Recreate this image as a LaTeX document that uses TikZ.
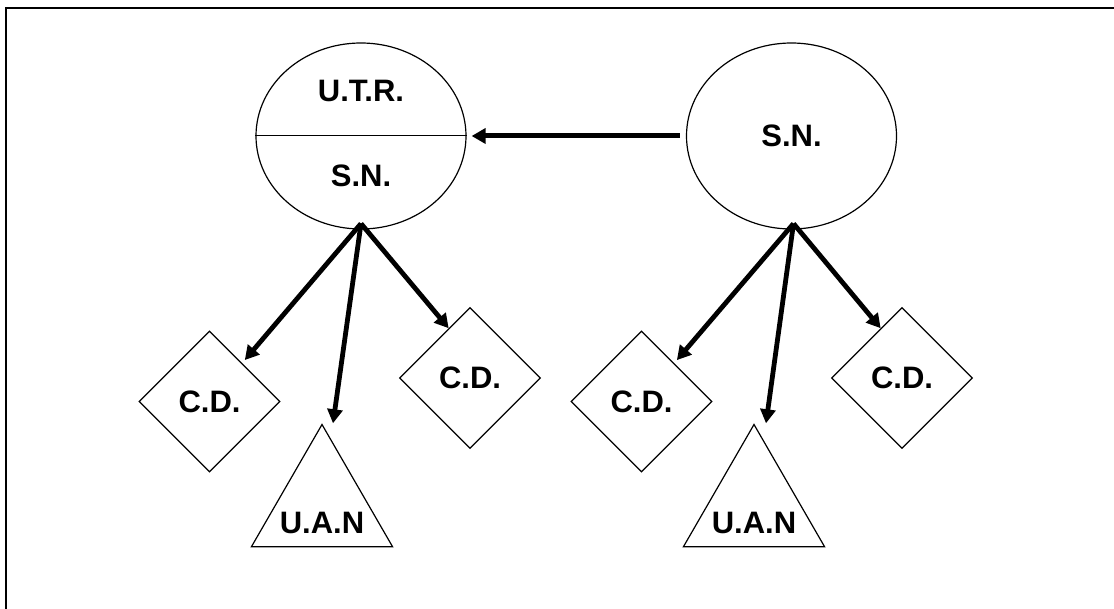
\documentclass[tikz,border=0pt]{standalone}
\usepackage{fontspec}
\setmainfont{Liberation Sans}
\usetikzlibrary{shapes.geometric, arrows.meta, positioning, calc}
\tikzstyle{station} = [ellipse, draw, line width=1.2pt, minimum width=210pt, minimum height=186pt,
                       inner sep=0pt, font=\fontsize{31}{37}\selectfont\bfseries]
\tikzstyle{cdbox} = [diamond, draw, line width=1.2pt, minimum width=141pt, minimum height=141pt,
                     inner sep=0pt, font=\fontsize{31}{37}\selectfont\bfseries]
\tikzstyle{uanbox} = [regular polygon, regular polygon sides=3, draw, line width=1.2pt,
                      minimum size=163pt, inner sep=0pt]
\tikzstyle{lbl} = [font=\fontsize{31}{37}\selectfont\bfseries, inner sep=0pt]
\tikzstyle{arrow} = [-{Triangle[length=14pt, width=15pt]}, line width=4.8pt]

\begin{document}
\begin{tikzpicture}[x=1pt, y=-1pt]
\useasboundingbox (0,0) rectangle (1114,609);

% Frame
\draw[line width=2pt] (6,609) -- (6,8) -- (1114,8);

% Stations
\node[station] (utr) at (361,136) {};
\draw[line width=1pt] (utr.west) -- (utr.east);
\node[lbl] (utrtxt) at ([yshift=45pt]utr.center) {U.T.R.};
\node[lbl] (sntxt) at ([yshift=-40pt]utr.center) {S.N.};
\node[station] (sn) at (791.5,136) {S.N.};

% Left group
\node[cdbox] (cd1) at (209.5,401.5) {C.D.};
\node[cdbox] (cd2) at (470,378) {C.D.};
\node[uanbox] (uan1) at (322,506) {};
\node[lbl] (uantxt1) at ([yshift=-17pt]uan1.center) {U.A.N};

% Right group
\node[cdbox] (cd3) at (641.5,401.5) {C.D.};
\node[cdbox] (cd4) at (902,378) {C.D.};
\node[uanbox] (uan2) at (754,506) {};
\node[lbl] (uantxt2) at ([yshift=-17pt]uan2.center) {U.A.N};

% Arrows
\coordinate (o1) at ([yshift=6pt]utr.south);
\coordinate (o2) at ([xshift=2pt, yshift=6pt]sn.south);

\draw[arrow, line width=5pt, shorten <=6pt, shorten >=5pt] (sn.west) -- (utr.east);

\draw[arrow, shorten >=4pt] (o1) -- (cd1);
\draw[arrow] (o1) -- ([xshift=11pt]uan1.corner 1);
\draw[arrow] (o1) -- ($(cd2.north)!0.3!(cd2.west)$);

\draw[arrow, shorten >=4pt] (o2) -- (cd3);
\draw[arrow] (o2) -- ([xshift=12pt]uan2.corner 1);
\draw[arrow] (o2) -- ($(cd4.north)!0.3!(cd4.west)$);

\end{tikzpicture}
\end{document}
